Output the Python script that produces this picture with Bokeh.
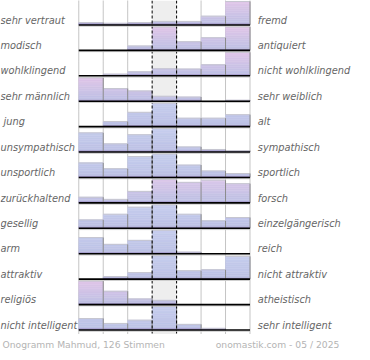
from bokeh.plotting import figure
from bokeh.models import Range1d
from bokeh.embed import file_html
from bokeh.resources import INLINE
from bokeh.core.properties import value

# ---------------- data ----------------
left_labels = ["sehr vertraut", "modisch", "wohlklingend", "sehr männlich", "\u00a0jung",
               "unsympathisch", "unsportlich", "zurückhaltend", "gesellig", "arm",
               "attraktiv", "religiös", "nicht intelligent"]
right_labels = ["fremd", "antiquiert", "nicht wohlklingend", "sehr weiblich", "alt",
                "sympathisch", "sportlich", "forsch", "einzelgängerisch", "reich",
                "nicht attraktiv", "atheistisch", "sehr intelligent"]

# relative share per answer column (1 = most frequent answer in that row)
vertraut_fremd = [0.10, 0.07, 0.10, 0.15, 0.15, 0.375, 1.0]
modisch_antiquiert = [0.0, 0.0, 0.19, 1.0, 0.37, 0.54, 1.0]
wohlklingend = [0.0, 0.07, 0.17, 0.30, 0.29, 0.47, 1.0]
maennlich_weiblich = [1.0, 0.54, 0.44, 0.21, 0.18, 0.0, 0.04]
jung_alt = [0.0, 0.22, 0.61, 1.0, 0.36, 0.36, 0.51]
unsympathisch_sympathisch = [0.82, 0.35, 0.74, 1.0, 0.22, 0.11, 0.06]
unsportlich_sportlich = [0.62, 0.375, 0.89, 1.0, 0.53, 0.28, 0.17]
zurueckhaltend_forsch = [0.24, 0.15, 0.49, 1.0, 0.875, 0.97, 0.82]
gesellig_einzelgaenger = [0.36, 0.60, 0.90, 1.0, 0.60, 0.32, 0.46]
arm_reich = [0.69, 0.40, 0.57, 1.0, 0.07, 0.0, 0.0]
attraktiv = [0.0, 0.11, 0.28, 1.0, 0.36, 0.40, 0.97]
religioes_atheistisch = [1.0, 0.57, 0.24, 0.18, 0.0, 0.0, 0.0]
intelligent = [0.49, 0.28, 0.42, 1.0, 0.24, 0.07, 0.0]

rows = [vertraut_fremd, modisch_antiquiert, wohlklingend, maennlich_weiblich, jung_alt,
        unsympathisch_sympathisch, unsportlich_sportlich, zurueckhaltend_forsch,
        gesellig_einzelgaenger, arm_reich, attraktiv, religioes_atheistisch, intelligent]

# pink tint of the bar gradient top per row
row_tint = [1, 1, 1, 1, 0, 0, 0, 0.8, 0, 0, 0, 1, 0]

footer_left = "Onogramm Mahmud, 126 Stimmen"
footer_right = "onomastik.com - 05 / 2025"

# ---------------- layout ----------------
W, H = 362, 352
REF_W, REF_H = 370, 360
COL = 25.0     # reference px per column
PITCH = 26.0   # reference px per row
NCOL = 7
NROW = len(rows)
x_start = -80 / COL
x_end = x_start + REF_W / COL

p = figure(width=W, height=H, x_range=Range1d(x_start, x_end),
           y_range=Range1d(REF_H / PITCH, 0),
           output_backend="svg", toolbar_location=None, min_border=0,
           x_axis_location=None, y_axis_location=None)
p.grid.visible = False
p.outline_line_color = None
p.background_fill_color = "white"
p.border_fill_color = "white"

full = 24 / PITCH
band = 2 / PITCH
bottom_y = 341 / PITCH

def base(k):
    return k + 25 / PITCH

# middle column background
p.quad(left=[3], right=[4], top=[0], bottom=[bottom_y], fill_color="#eeeeee", line_color=None)

# dotted grid
dot_x = [0, 1, 2, 5, 6, 7]
p.segment(x0=dot_x, x1=dot_x, y0=[0] * len(dot_x), y1=[bottom_y] * len(dot_x),
          line_color="#8a8a8a", line_width=1, line_dash="1 1")

def mix(c1, c2, t):
    return "#%02x%02x%02x" % tuple(int(round(a + (b - a) * t)) for a, b in zip(c1, c2))

blue_bottom = (188, 192, 228)
blue_top = (198, 206, 238)
pink_top = (224, 198, 232)
band_col = "#a69ccc"

L, R, T, B, C = [], [], [], [], []
eL, eY0, eY1 = [], [], []
tX0, tX1, tY = [], [], []
N = 12
for k, vals in enumerate(rows):
    top_c = tuple(a + (b - a) * row_tint[k] for a, b in zip(blue_top, pink_top))
    y0 = base(k)
    for i, v in enumerate(vals):
        if v <= 0:
            continue
        hu = v * full
        # dark bottom band
        L.append(i); R.append(i + 1); B.append(y0); T.append(y0 - min(band, hu)); C.append(band_col)
        # gradient strips
        for j in range(N):
            s0 = band + (full - band) * j / N
            s1 = band + (full - band) * (j + 1) / N
            if s0 >= hu:
                break
            s1 = min(s1, hu)
            t = ((s0 + s1) / 2) / full
            L.append(i); R.append(i + 1); B.append(y0 - s0); T.append(y0 - s1)
            C.append(mix(blue_bottom, top_c, t))
        eL.append(i + 1); eY0.append(y0); eY1.append(y0 - hu)
        tX0.append(i); tX1.append(i + 1); tY.append(y0 - hu)

p.quad(left=L, right=R, top=T, bottom=B, fill_color=C, line_color=C, line_width=0.5)
p.segment(x0=tX0, x1=tX1, y0=tY, y1=tY, line_color="#c6c6d0", line_width=1)
p.segment(x0=eL, x1=eL, y0=eY0, y1=eY1, line_color="#8c8c8c", line_width=1)

# dashed middle column borders
p.segment(x0=[3, 4], x1=[3, 4], y0=[0, 0], y1=[bottom_y, bottom_y],
          line_color="black", line_width=1, line_dash="3 2")

# baselines
bys = [base(k) for k in range(NROW)]
p.segment(x0=[0] * NROW, x1=[NCOL] * NROW, y0=[b + 1.3 / PITCH for b in bys],
          y1=[b + 1.3 / PITCH for b in bys], line_color="#cccccc", line_width=1)
p.segment(x0=[0] * NROW, x1=[NCOL] * NROW, y0=bys, y1=bys, line_color="black", line_width=1.6)

# labels
ty = [k + 20 / PITCH for k in range(NROW)]
p.text(x=[x_start] * NROW, y=ty, text=left_labels, text_font=value("DejaVu Sans"),
       text_font_style="italic", text_font_size="9.8px", text_color="#666666",
       text_baseline="middle", text_align="left")
p.text(x=[(263 - 80) / COL] * NROW, y=ty, text=right_labels, text_font=value("DejaVu Sans"),
       text_font_style="italic", text_font_size="9.8px", text_color="#666666",
       text_baseline="middle", text_align="left")

fy = 352 / PITCH
p.text(x=[(2 - 80) / COL], y=[fy], text=[footer_left], text_font=value("DejaVu Sans"),
       text_font_size="9.2px", text_color="#b4b4b4", text_baseline="middle", text_align="left")
p.text(x=[(220 - 80) / COL], y=[fy], text=[footer_right], text_font=value("DejaVu Sans"),
       text_font_size="9.2px", text_color="#b4b4b4", text_baseline="middle", text_align="left")

open("out.html", "w").write(file_html(p, INLINE))
